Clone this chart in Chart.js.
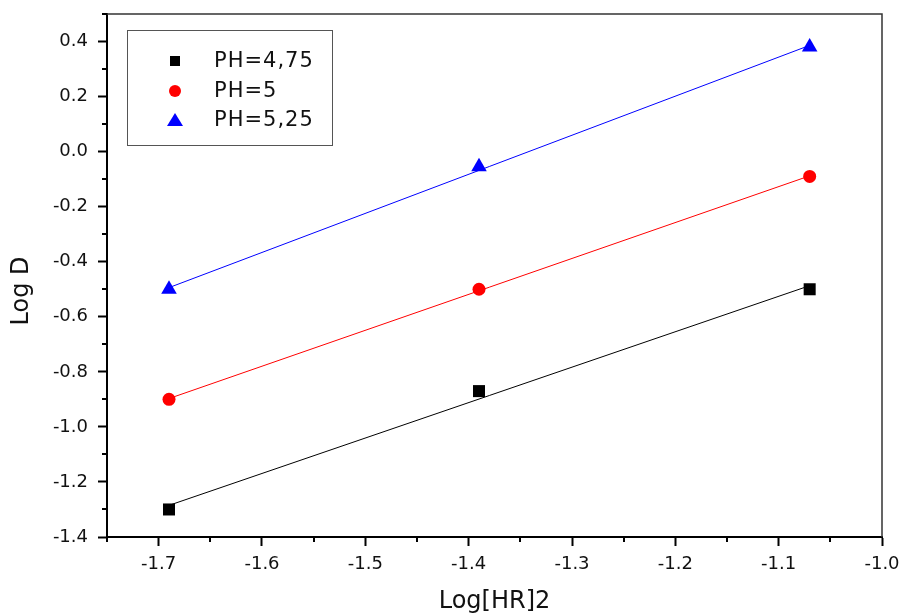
<!DOCTYPE html>
<html>
<head>
<meta charset="utf-8">
<script src="https://cdn.jsdelivr.net/npm/chart.js@4.4.1/dist/chart.umd.min.js"></script>
<style>
  html, body { margin: 0; padding: 0; background: #fff; }
  #wrap { width: 903px; height: 616px; }
</style>
</head>
<body>
<div id="wrap"><canvas class="js-graph"></canvas></div>
<script>
// values
const xValues = [-1.69, -1.39, -1.07]
const logD475 = [-1.30, -0.87, -0.50]
const logD5 = [-0.90, -0.50, -0.09]
const logD525 = [-0.50, -0.055, 0.38]

// fitted lines, endpoints
const fitX = [-1.69, -1.07]
const fit475 = [-1.285, -0.487]
const fit5 = [-0.897, -0.088]
const fit525 = [-0.494, 0.386]

const seriesLabels = ['PH=4,75', 'PH=5', 'PH=5,25']

const xTicks = [-1.7, -1.6, -1.5, -1.4, -1.3, -1.2, -1.1, -1.0]
const xMinorTicks = [-1.75, -1.65, -1.55, -1.45, -1.35, -1.25, -1.15, -1.05]
const yTicks = [-1.4, -1.2, -1.0, -0.8, -0.6, -0.4, -0.2, 0.0, 0.2, 0.4]
const yMinorTicks = [-1.3, -1.1, -0.9, -0.7, -0.5, -0.3, -0.1, 0.1, 0.3, 0.5]

const toPoints = (xs, ys) => xs.map((x, i) => ({ x: x, y: ys[i] }))

const FONT = "'DejaVu Sans', sans-serif"

// keep the plot box where the reference has it
const noScalePadding = (scale) => {
  scale.paddingLeft = 0
  scale.paddingRight = 0
  scale.paddingTop = 0
  scale.paddingBottom = 0
}

// frame, minor ticks, y title and the boxed legend
const decorPlugin = {
  id: 'decor',
  afterDraw(chart) {
    const ctx = chart.ctx
    const { left, right, top, bottom } = chart.chartArea
    const xs = chart.scales.x
    const ys = chart.scales.y
    ctx.save()

    // top and right frame
    ctx.strokeStyle = '#333'
    ctx.lineWidth = 1.5
    ctx.beginPath()
    ctx.moveTo(left, top)
    ctx.lineTo(right, top)
    ctx.lineTo(right, bottom)
    ctx.stroke()

    // minor ticks
    ctx.strokeStyle = '#000'
    ctx.lineWidth = 2
    ctx.beginPath()
    xMinorTicks.forEach((v) => {
      const px = Math.round(xs.getPixelForValue(v))
      ctx.moveTo(px, bottom)
      ctx.lineTo(px, bottom + 5)
    })
    yMinorTicks.forEach((v) => {
      const py = Math.round(ys.getPixelForValue(v))
      ctx.moveTo(left, py)
      ctx.lineTo(left - 5, py)
    })
    ctx.stroke()

    // y axis title
    ctx.fillStyle = '#111'
    ctx.font = '24px ' + FONT
    ctx.textAlign = 'center'
    ctx.textBaseline = 'middle'
    ctx.translate(22, 291)
    ctx.rotate(-Math.PI / 2)
    ctx.fillText('Log D', 0, 0)
    ctx.setTransform(1, 0, 0, 1, 0, 0)

    // legend box
    ctx.strokeStyle = '#555'
    ctx.lineWidth = 1
    ctx.strokeRect(127.5, 30.5, 205, 115)
    const rows = [61, 91, 120]
    const colors = ['#000000', '#ff0000', '#0000ff']
    rows.forEach((ry, i) => {
      const mx = 175
      ctx.fillStyle = colors[i]
      ctx.beginPath()
      if (i === 0) {
        ctx.rect(mx - 5, ry - 5, 10, 10)
      } else if (i === 1) {
        ctx.arc(mx, ry, 6, 0, Math.PI * 2)
      } else {
        ctx.moveTo(mx, ry - 7)
        ctx.lineTo(mx + 8, ry + 6)
        ctx.lineTo(mx - 8, ry + 6)
        ctx.closePath()
      }
      ctx.fill()
      ctx.fillStyle = '#111'
      ctx.font = '21px ' + FONT
      ctx.textAlign = 'left'
      ctx.textBaseline = 'middle'
      ctx.letterSpacing = '1px'
      ctx.fillText(seriesLabels[i], 214, ry + 1)
    })
    ctx.restore()
  },
}

const init = function () {
  const ctx = document.querySelector('.js-graph')
  new Chart(ctx, {
    type: 'scatter',
    data: {
      datasets: [
        { label: 'fit 4.75', data: toPoints(fitX, fit475), showLine: true, borderColor: '#000', borderWidth: 1, pointRadius: 0, order: 2 },
        { label: 'fit 5', data: toPoints(fitX, fit5), showLine: true, borderColor: '#ff0000', borderWidth: 1, pointRadius: 0, order: 2 },
        { label: 'fit 5.25', data: toPoints(fitX, fit525), showLine: true, borderColor: '#0000ff', borderWidth: 1, pointRadius: 0, order: 2 },
        { label: seriesLabels[0], data: toPoints(xValues, logD475), pointStyle: 'rect', pointRadius: 8.5, backgroundColor: '#000', borderColor: '#000', borderWidth: 0, order: 1 },
        { label: seriesLabels[1], data: toPoints(xValues, logD5), pointStyle: 'circle', pointRadius: 6.5, backgroundColor: '#ff0000', borderColor: '#ff0000', borderWidth: 0, order: 1 },
        { label: seriesLabels[2], data: toPoints(xValues, logD525), pointStyle: 'triangle', pointRadius: 9, backgroundColor: '#0000ff', borderColor: '#0000ff', borderWidth: 0, order: 1 },
      ],
    },
    options: {
      responsive: true,
      maintainAspectRatio: false,
      animation: false,
      layout: { padding: { top: 14, right: 21, left: 0, bottom: 0 } },
      plugins: {
        legend: { display: false },
        tooltip: { enabled: false },
      },
      scales: {
        x: {
          type: 'linear',
          min: -1.75,
          max: -1.0,
          afterFit: (scale) => {
            scale.height = 79
            noScalePadding(scale)
          },
          afterBuildTicks: (scale) => { scale.ticks = xTicks.map((v) => ({ value: v })) },
          border: { color: '#000', width: 2 },
          grid: { drawOnChartArea: false, drawTicks: true, tickLength: 9, tickWidth: 2, tickColor: '#000' },
          ticks: {
            color: '#111',
            font: { family: FONT, size: 18 },
            padding: 8,
            maxRotation: 0,
            callback: (v) => v.toFixed(1),
          },
          title: {
            display: true,
            text: 'Log[HR]2',
            color: '#111',
            font: { family: FONT, size: 24 },
            padding: { top: 0, bottom: 0 },
          },
        },
        y: {
          type: 'linear',
          min: -1.4,
          max: 0.5,
          afterFit: (scale) => {
            scale.width = 107
            noScalePadding(scale)
          },
          afterBuildTicks: (scale) => { scale.ticks = yTicks.map((v) => ({ value: v })) },
          border: { color: '#000', width: 2 },
          grid: { drawOnChartArea: false, drawTicks: true, tickLength: 9, tickWidth: 2, tickColor: '#000' },
          ticks: {
            color: '#111',
            font: { family: FONT, size: 18 },
            padding: 10,
            callback: (v) => v.toFixed(1),
          },
        },
      },
    },
    plugins: [decorPlugin],
  })
}

document.addEventListener('DOMContentLoaded', function () {
  init()
})
</script>
</body>
</html>
